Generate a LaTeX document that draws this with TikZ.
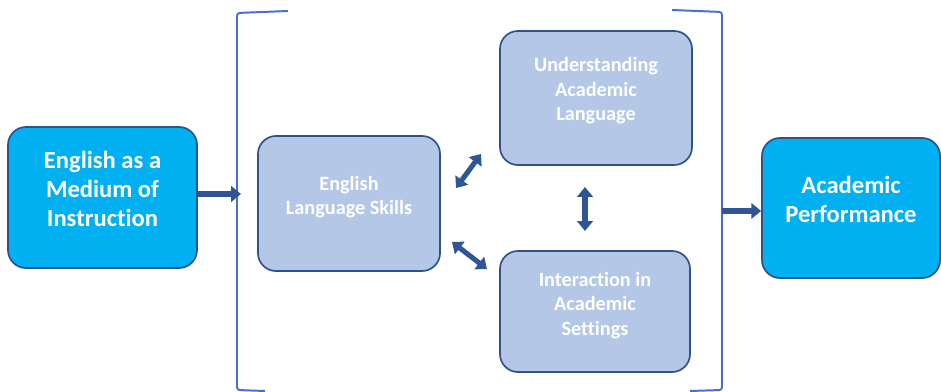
\documentclass[tikz,border=0pt]{standalone}
\usepackage{fontspec}
\setmainfont{Carlito}[Ligatures={NoCommon}]
\usetikzlibrary{arrows.meta, positioning}
\definecolor{brightcyan}{RGB}{0,176,240}
\definecolor{paleblue}{RGB}{180,199,231}
\definecolor{edgeblue}{RGB}{47,82,143}
\definecolor{bracketblue}{RGB}{68,114,196}
\definecolor{arrowblue}{RGB}{47,85,151}

\begin{document}
\begin{tikzpicture}[
        x=0.025cm, y=-0.025cm,
        mainbox/.style={rectangle, draw=edgeblue, line width=1.2pt, fill=brightcyan, rounded corners=0.45cm, inner sep=0pt},
        skillbox/.style={mainbox, fill=paleblue},
        maintext/.style={align=center, text=white, inner sep=0pt, font=\bfseries\fontsize{17.5}{20.6}\selectfont},
        skilltext/.style={maintext, font=\bfseries\fontsize{14.4}{17.4}\selectfont},
        bracket/.style={draw=bracketblue, line width=1.4pt, rounded corners=2pt},
        link/.style={arrowblue, line width=3.6pt, -{Triangle[length=7pt, width=11pt]}},
        twoway/.style={arrowblue, line width=3.6pt, {Triangle[length=7pt, width=11pt]}-{Triangle[length=7pt, width=11pt]}}
    ]
        \useasboundingbox (0,0) rectangle (941,392);

        % boxes
        \node[mainbox, minimum width=4.725cm, minimum height=3.525cm] (emi) at (102.5,197.5) {};
        \node[skillbox, minimum width=4.55cm, minimum height=3.375cm] (skills) at (349,203.5) {};
        \node[skillbox, minimum width=4.8cm, minimum height=3.35cm] (understanding) at (596,98) {};
        \node[skillbox, minimum width=4.75cm, minimum height=3.025cm] (interaction) at (595,311.5) {};
        \node[mainbox, minimum width=4.45cm, minimum height=3.5cm] (performance) at (851,208) {};

        % box texts, set a little above the middle
        \node[maintext] (emitext) at ([yshift=6pt]emi.center) {English as a\\Medium of\\Instruction};
        \node[skilltext] (skillstext) at ([yshift=4.5pt]skills.center) {English\\Language Skills};
        \node[skilltext] (understandingtext) at ([yshift=5pt]understanding.center) {Understanding\\Academic\\Language};
        \node[skilltext] (interactiontext) at ([yshift=4.5pt]interaction.center) {Interaction in\\Academic\\Settings};
        \node[maintext] (performancetext) at ([yshift=6pt]performance.center) {Academic\\Performance};

        % brackets
        \draw[bracket] (288,11) -- (237,13) -- (237,390) -- (265,391);
        \draw[bracket] (672,10) -- (722,12) -- (722,390) -- (690,391);

        % arrow ends
        \coordinate (bracketin) at (241,194);
        \coordinate (bracketout) at (722,211);
        \coordinate (skillsup) at (456,188);
        \coordinate (understandingdown) at (481,154);
        \coordinate (skillsdown) at (452,242);
        \coordinate (interactionup) at (487,269);
        \coordinate (middletop) at (585,187);
        \coordinate (middlebottom) at (585,231);

        \draw[link] (emi.east |- bracketin) -- (bracketin);
        \draw[link] (bracketout) -- (bracketout -| performance.west);
        \draw[twoway] (skillsup) -- (understandingdown);
        \draw[twoway] (skillsdown) -- (interactionup);
        \draw[twoway] (middletop) -- (middlebottom);
    \end{tikzpicture}
\end{document}
